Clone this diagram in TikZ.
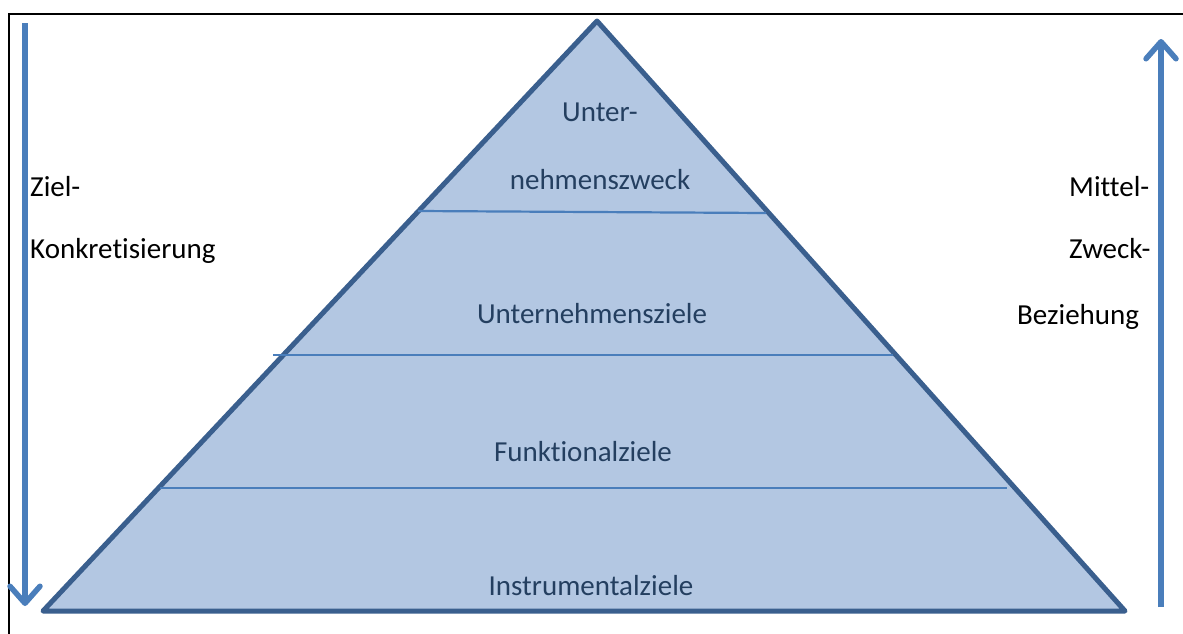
\documentclass[tikz,border=0pt]{standalone}
\usepackage{fontspec}
\setmainfont{Carlito}[Ligatures=NoCommon]
\usetikzlibrary{arrows.meta}
\definecolor{pyrfill}{HTML}{B3C7E2}
\definecolor{pyredge}{HTML}{3A5F8E}
\definecolor{accent}{HTML}{4A7EBB}
\definecolor{pyrtext}{HTML}{243F60}
\begin{document}
\begin{tikzpicture}[x=1pt,y=-1pt,
  pyrlabel/.style={anchor=base,inner sep=0pt,text=pyrtext,font=\fontsize{29}{34}\selectfont},
  sidelabel/.style={anchor=base west,inner sep=0pt,text=black,font=\fontsize{29}{34}\selectfont},
  layerline/.style={draw=accent,line width=2.2pt},
  bigarrow/.style={draw=accent,line width=5.5pt,-{Straight Barb[length=17pt,width=30pt,line width=5.5pt,round]}},
  framestyle/.style={draw=black,line width=2.5pt}]
\useasboundingbox (0,0) rectangle (1183,633);
\fill[white] (0,0) rectangle (1183,633);
% frame
\draw[framestyle] (9,640) -- (9,14) -- (1190,14);
% pyramid
\coordinate (bl) at (43,611);
\coordinate (apex) at (597,21);
\coordinate (br) at (1125,611);
\filldraw[fill=pyrfill,draw=pyredge,line width=5pt,line join=round] (bl) -- (apex) -- (br) -- cycle;
% layer lines
\coordinate (l1a) at (418,211); \coordinate (l1b) at (766,213);
\coordinate (l2a) at (273,355); \coordinate (l2b) at (893,355);
\coordinate (l3a) at (160,488); \coordinate (l3b) at (1007,488);
\draw[layerline] (l1a) -- (l1b);
\draw[layerline] (l2a) -- (l2b);
\draw[layerline] (l3a) -- (l3b);
% pyramid texts
\node[pyrlabel] (t1) at (600,121) {Unter-};
\node[pyrlabel] (t2) at (600,189) {nehmenszweck};
\node[pyrlabel] (t3) at (592,323) {Unternehmensziele};
\node[pyrlabel] (t4) at (583,461) {Funktionalziele};
\node[pyrlabel] (t5) at (591,595) {Instrumentalziele};
% arrows
\coordinate (la1) at (25,23); \coordinate (la2) at (25,606);
\coordinate (ra1) at (1161,607); \coordinate (ra2) at (1161,39);
\draw[bigarrow] (la1) -- (la2);
\draw[bigarrow] (ra1) -- (ra2);
% side texts
\node[sidelabel] (s1) at (30,196) {Ziel-};
\node[sidelabel] (s2) at (30,258) {Konkretisierung};
\node[sidelabel] (s3) at (1069,196) {Mittel-};
\node[sidelabel] (s4) at (1069,258) {Zweck-};
\node[sidelabel] (s5) at (1017,324) {Beziehung};
\end{tikzpicture}
\end{document}
